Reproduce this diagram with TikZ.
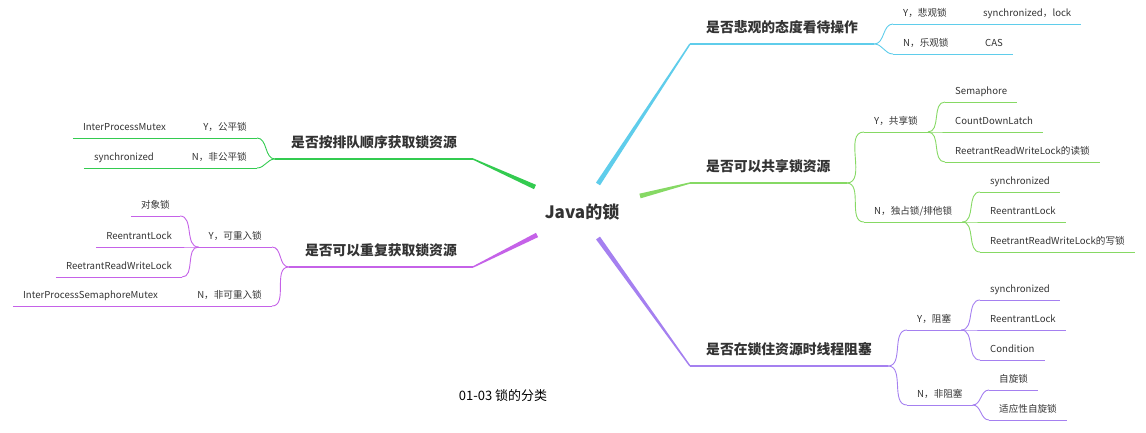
\documentclass[tikz,border=0pt]{standalone}
\usepackage{fontspec}
\setmainfont{Noto Sans CJK SC}
\usepackage{tikz}
\usetikzlibrary{calc}

\definecolor{pcyan}{HTML}{5FCDEB}
\definecolor{pgreen}{HTML}{86D964}
\definecolor{pviolet}{HTML}{A580F0}
\definecolor{fgreen}{HTML}{33CB50}
\definecolor{rmagenta}{HTML}{C562E8}
\definecolor{txt}{HTML}{333333}

% tapered branch from the centre to a topic
\newcommand{\branchwedge}[3]{%
  \fill[#3] ($(#1)!2.4pt!90:(#2)$) -- ($(#2)!0.7pt!-90:(#1)$)
    -- ($(#2)!0.7pt!90:(#1)$) -- ($(#1)!2.4pt!-90:(#2)$) -- cycle;}

\tikzset{
  leaf/.style={anchor=south west, inner xsep=10pt, inner ysep=5pt,
    text height=8pt, text depth=2pt, text=txt, font=\fontsize{9.6}{11}\selectfont,
    append after command={\pgfextra{\let\undernode=\tikzlastnode}
      (\undernode.south west) edge[draw=#1, line width=0.9pt] (\undernode.south east)}},
  lleaf/.style={leaf=#1, anchor=south east},
  topic/.style={anchor=south west, inner xsep=16pt, inner ysep=8pt,
    text height=10pt, text depth=3pt, text=txt,
    font=\fontsize{13.8}{16}\selectfont\bfseries,
    append after command={\pgfextra{\let\undernode=\tikzlastnode}
      (\undernode.south west) edge[draw=#1, line width=1.1pt] (\undernode.south east)}},
  ltopic/.style={topic=#1, anchor=south east},
  link/.style={draw=#1, line width=0.9pt},
}

\begin{document}
\begin{tikzpicture}[x=1pt, y=-1pt]
    \useasboundingbox (0,0) rectangle (1146,432);

    % Centre
    \node[text=txt, font=\fontsize{17}{20}\selectfont\bfseries] (J) at (582,212) {Java的锁};
    \coordinate (w1) at (598,184);
    \coordinate (w2) at (640,196);
    \coordinate (w3) at (598,238);
    \coordinate (w4) at (535,187);
    \coordinate (w5) at (537,235);

    % Topics
    \node[topic=pcyan] (T1) at (690,44) {是否悲观的态度看待操作};
    \node[topic=pgreen] (T2) at (690,183) {是否可以共享锁资源};
    \node[topic=pviolet] (T3) at (690,366) {是否在锁住资源时线程阻塞};
    \node[ltopic=fgreen] (T4) at (473,159) {是否按排队顺序获取锁资源};
    \node[ltopic=rmagenta] (T5) at (473,267) {是否可以重复获取锁资源};

    \branchwedge{w1}{T1.south west}{pcyan}
    \branchwedge{w2}{T2.south west}{pgreen}
    \branchwedge{w3}{T3.south west}{pviolet}
    \branchwedge{w4}{T4.south east}{fgreen}
    \branchwedge{w5}{T5.south east}{rmagenta}

    % Pessimistic or optimistic
    \node[leaf=pcyan] (Y1) at (893,24) {Y，悲观锁};
    \node[leaf=pcyan] (Y1a) at (973,24) {synchronized，lock};
    \node[leaf=pcyan] (N1) at (893,54) {N，乐观锁};
    \node[leaf=pcyan] (N1a) at (975,54) {CAS};
    \draw[link=pcyan] (T1.south east) to[out=0,in=180] (Y1.south west);
    \draw[link=pcyan] (T1.south east) to[out=0,in=180] (N1.south west);
    \draw[link=pcyan] (Y1.south east) -- (Y1a.south west);
    \draw[link=pcyan] (N1.south east) -- (N1a.south west);

    % Shared or exclusive
    \node[leaf=pgreen] (Y2) at (864,132) {Y，共享锁};
    \node[leaf=pgreen] (Y2a) at (945,102) {Semaphore};
    \node[leaf=pgreen] (Y2b) at (945,132) {CountDownLatch};
    \node[leaf=pgreen] (Y2c) at (945,162) {ReetrantReadWriteLock的读锁};
    \node[leaf=pgreen] (N2) at (864,222) {N，独占锁/排他锁};
    \node[leaf=pgreen] (N2a) at (980,192) {synchronized};
    \node[leaf=pgreen] (N2b) at (980,222) {ReentrantLock};
    \node[leaf=pgreen] (N2c) at (980,252) {ReetrantReadWriteLock的写锁};
    \draw[link=pgreen] (T2.south east) to[out=0,in=180] (Y2.south west);
    \draw[link=pgreen] (T2.south east) to[out=0,in=180] (N2.south west);
    \foreach \c in {Y2a,Y2b,Y2c}
      \draw[link=pgreen] (Y2.south east) to[out=0,in=180] (\c.south west);
    \foreach \c in {N2a,N2b,N2c}
      \draw[link=pgreen] (N2.south east) to[out=0,in=180] (\c.south west);

    % Blocking or not
    \node[leaf=pviolet] (Y3) at (907,330) {Y，阻塞};
    \node[leaf=pviolet] (Y3a) at (980,300) {synchronized};
    \node[leaf=pviolet] (Y3b) at (980,330) {ReentrantLock};
    \node[leaf=pviolet] (Y3c) at (980,360) {Condition};
    \node[leaf=pviolet] (N3) at (907,405) {N，非阻塞};
    \node[leaf=pviolet] (N3a) at (989,390) {自旋锁};
    \node[leaf=pviolet] (N3b) at (989,420) {适应性自旋锁};
    \draw[link=pviolet] (T3.south east) to[out=0,in=180] (Y3.south west);
    \draw[link=pviolet] (T3.south east) to[out=0,in=180] (N3.south west);
    \foreach \c in {Y3a,Y3b,Y3c}
      \draw[link=pviolet] (Y3.south east) to[out=0,in=180] (\c.south west);
    \foreach \c in {N3a,N3b}
      \draw[link=pviolet] (N3.south east) to[out=0,in=180] (\c.south west);

    % Fair or unfair
    \node[lleaf=fgreen] (Y4) at (257,138) {Y，公平锁};
    \node[lleaf=fgreen] (Y4a) at (176,138) {InterProcessMutex};
    \node[lleaf=fgreen] (N4) at (257,168) {N，非公平锁};
    \node[lleaf=fgreen] (N4a) at (164,168) {synchronized};
    \draw[link=fgreen] (T4.south west) to[out=180,in=0] (Y4.south east);
    \draw[link=fgreen] (T4.south west) to[out=180,in=0] (N4.south east);
    \draw[link=fgreen] (Y4.south west) -- (Y4a.south east);
    \draw[link=fgreen] (N4.south west) -- (N4a.south east);

    % Reentrant or not
    \node[lleaf=rmagenta] (Y5) at (272,247) {Y，可重入锁};
    \node[lleaf=rmagenta] (Y5a) at (180,216) {对象锁};
    \node[lleaf=rmagenta] (Y5b) at (182,247) {ReentrantLock};
    \node[lleaf=rmagenta] (Y5c) at (182,277) {ReetrantReadWriteLock};
    \node[lleaf=rmagenta] (N5) at (272,306) {N，非可重入锁};
    \node[lleaf=rmagenta] (N5a) at (168,306) {InterProcessSemaphoreMutex};
    \draw[link=rmagenta] (T5.south west) to[out=180,in=0] (Y5.south east);
    \draw[link=rmagenta] (T5.south west) to[out=180,in=0] (N5.south east);
    \foreach \c in {Y5a,Y5b,Y5c}
      \draw[link=rmagenta] (Y5.south west) to[out=180,in=0] (\c.south east);
    \draw[link=rmagenta] (N5.south west) -- (N5a.south east);

    % Caption
    \node[font=\fontsize{13}{15}\selectfont] (cap) at (503,396) {01-03 锁的分类};
\end{tikzpicture}
\end{document}
